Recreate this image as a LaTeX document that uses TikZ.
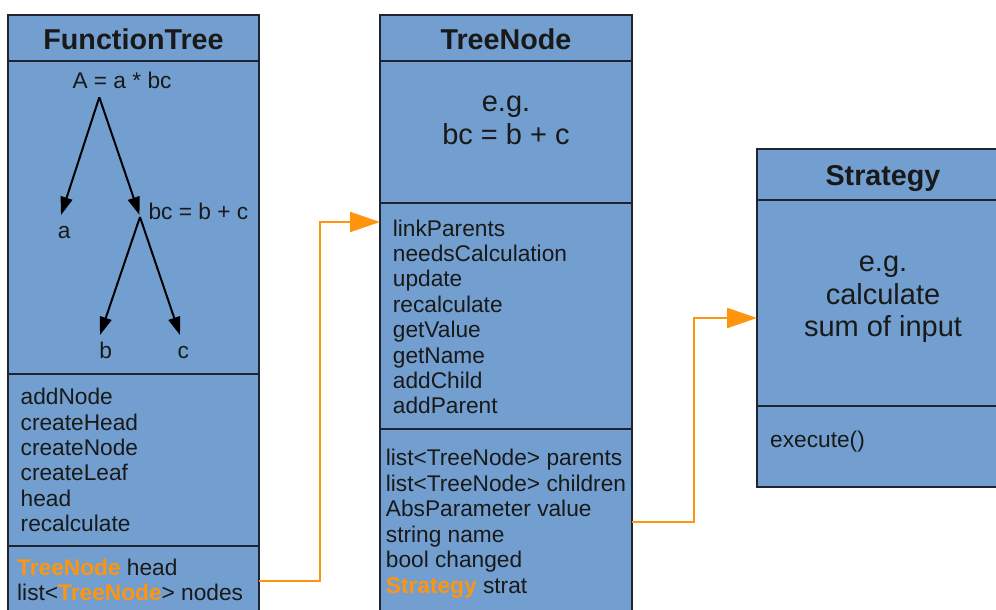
\documentclass[tikz,border=0pt]{standalone}
\usepackage{fontspec}
\setmainfont{Liberation Sans}
\usetikzlibrary{arrows.meta,calc}
\definecolor{boxfill}{HTML}{729FCF}
\definecolor{linkorange}{HTML}{FF950E}
\definecolor{edge}{HTML}{1E2530}
\newcommand{\typeref}[1]{\textcolor{linkorange}{\textbf{#1}}}

\tikzset{
  section/.style={draw=edge, line width=1.3pt, fill=boxfill, rectangle,
    anchor=north west, inner sep=0pt, outer sep=0pt},
  title/.style={font=\fontsize{28.7}{32}\selectfont\bfseries, anchor=base,
    inner sep=0pt, text=black!90},
  member/.style={font=\fontsize{22.7}{26}\selectfont, anchor=base west,
    inner sep=0pt, text=black!90},
  treelabel/.style={font=\fontsize{22.7}{26}\selectfont, anchor=base,
    inner sep=0pt, text=black!90},
  bigtext/.style={font=\fontsize{29}{32.5}\selectfont, anchor=base,
    inner sep=0pt, text=black!90},
  treearrow/.style={draw=black, line width=2pt,
    -{Triangle[length=18pt,width=12pt]}},
  link/.style={draw=linkorange, line width=2pt,
    -{Triangle[length=30pt,width=20pt]}},
}

\begin{document}
\begin{tikzpicture}[x=1pt,y=-1pt]
\clip (0,0) rectangle (996,610);
\fill[white] (0,0) rectangle (996,610);

% ---------- FunctionTree ----------
\node[section, minimum width=251pt, minimum height=46pt]  (ftHead) at (8,15) {};
\node[section, minimum width=251pt, minimum height=313pt] (ftTree) at (8,61) {};
\node[section, minimum width=251pt, minimum height=172pt] (ftMeth) at (8,374) {};
\node[section, minimum width=251pt, minimum height=69pt]  (ftAttr) at (8,546) {};
\node[title] (ftTitle) at (133.5,50) {FunctionTree};

% expression tree
\node[member] (rootLbl) at (72.3,88.3) {A = a * bc};
\node[treelabel] (aLbl) at (64.3,238.7) {a};
\node[member] (bcLbl) at (148.3,219.3) {bc = b + c};
\node[treelabel] (bLbl) at (105.7,358) {b};
\node[treelabel] (cLbl) at (183.3,358) {c};
\coordinate (rootPt) at (99.3,97.3);
\coordinate (aTip) at (61,215);
\coordinate (bcTip) at (139.5,215);
\coordinate (bcPt) at (140,217);
\coordinate (bTip) at (100,335);
\coordinate (cTip) at (180,335);
\draw[treearrow] (rootPt) -- (aTip);
\draw[treearrow] (rootPt) -- (bcTip);
\draw[treearrow] (bcPt) -- (bTip);
\draw[treearrow] (bcPt) -- (cTip);

\node[member] (ftM1) at (20.5,404.5) {addNode};
\node[member] (ftM2) at (20.5,430) {createHead};
\node[member] (ftM3) at (20.5,455.3) {createNode};
\node[member] (ftM4) at (20.5,480.7) {createLeaf};
\node[member] (ftM5) at (20.5,506) {head};
\node[member] (ftM6) at (20.5,531.4) {recalculate};

\node[member] (ftA1) at (17,575) {\typeref{TreeNode} head};
\node[member] (ftA2) at (17,600.5) {list<\typeref{TreeNode}> nodes};

% ---------- TreeNode ----------
\node[section, minimum width=252pt, minimum height=46pt]  (tnHead) at (380,15) {};
\node[section, minimum width=252pt, minimum height=142pt] (tnEx)   at (380,61) {};
\node[section, minimum width=252pt, minimum height=226pt] (tnMeth) at (380,203) {};
\node[section, minimum width=252pt, minimum height=186pt] (tnAttr) at (380,429) {};
\node[title] (tnTitle) at (506,50) {TreeNode};
\node[bigtext] (tnEx1) at (506,111.7) {e.g.};
\node[bigtext] (tnEx2) at (506,144) {bc = b + c};

\node[member] (tnM1) at (392.7,236) {linkParents};
\node[member] (tnM2) at (392.7,261.4) {needsCalculation};
\node[member] (tnM3) at (392.7,286.8) {update};
\node[member] (tnM4) at (392.7,312.2) {recalculate};
\node[member] (tnM5) at (392.7,337.6) {getValue};
\node[member] (tnM6) at (392.7,363) {getName};
\node[member] (tnM7) at (392.7,388.4) {addChild};
\node[member] (tnM8) at (392.7,413.8) {addParent};

\node[member] (tnA1) at (385.7,465.7) {list<TreeNode> parents};
\node[member] (tnA2) at (385.7,491.2) {list<TreeNode> children};
\node[member] (tnA3) at (385.7,516.7) {AbsParameter value};
\node[member] (tnA4) at (385.7,542.1) {string name};
\node[member] (tnA5) at (385.7,567.6) {bool changed};
\node[member] (tnA6) at (385.7,593) {\typeref{Strategy} strat};

% ---------- Strategy ----------
\node[section, minimum width=252pt, minimum height=51pt]  (stHead) at (757,149) {};
\node[section, minimum width=252pt, minimum height=206pt] (stEx)   at (757,200) {};
\node[section, minimum width=252pt, minimum height=81pt]  (stMeth) at (757,406) {};
\node[title] (stTitle) at (883,185) {Strategy};
\node[bigtext] (stEx1) at (883,271.7) {e.g.};
\node[bigtext] (stEx2) at (883,304) {calculate};
\node[bigtext] (stEx3) at (883,336.7) {sum of input};
\node[member] (stM1) at (770,447) {execute()};

% ---------- links between classes ----------
\coordinate (tnLinkIn) at ($(tnMeth.north west)+(0,19)$);
\coordinate (stLinkIn) at ($(stEx.north west)+(0,118)$);
\draw[link] (ftAttr.east) -- ++(61,0) |- (tnLinkIn);
\draw[link] (tnAttr.east) -- ++(62,0) |- (stLinkIn);
\end{tikzpicture}
\end{document}
